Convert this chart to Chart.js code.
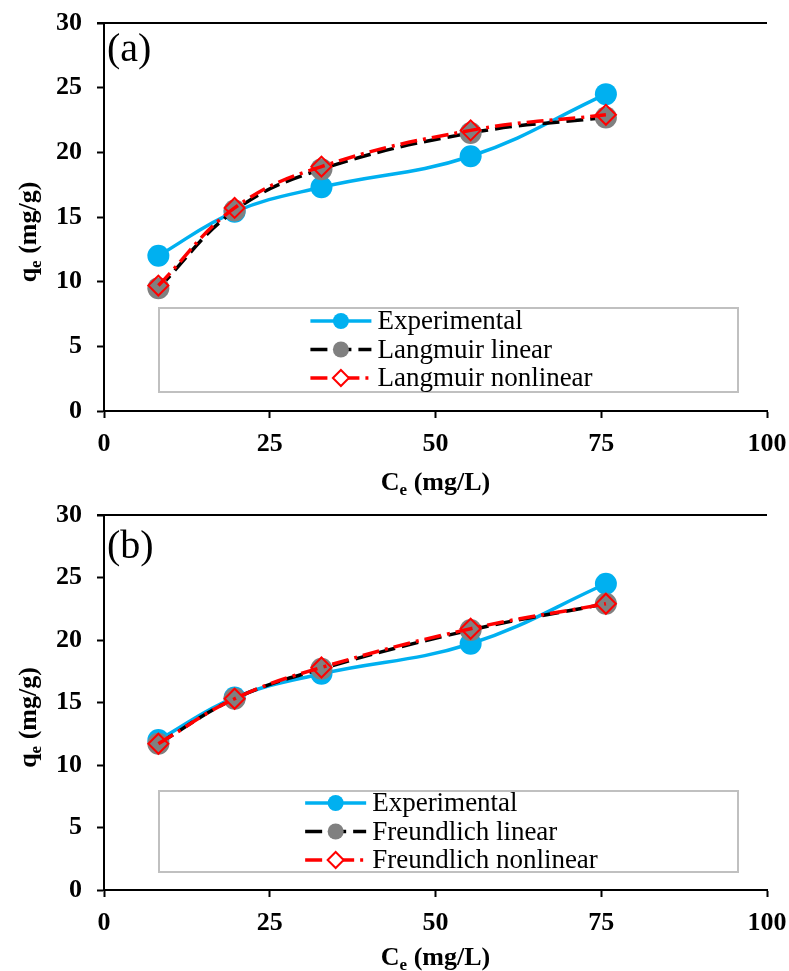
<!DOCTYPE html>
<html>
<head>
<meta charset="utf-8">
<script src="https://cdn.jsdelivr.net/npm/chart.js@4.4.1/dist/chart.umd.min.js"></script>
<style>
  body { margin: 0; background: #fff; }
  .panel { position: relative; width: 789px; }
  #top { height: 500px; }
  #bottom { height: 471px; }
</style>
</head>
<body>
<div class="panel" id="top"><canvas id="chart-a"></canvas></div>
<div class="panel" id="bottom"><canvas id="chart-b"></canvas></div>
<script>
// equilibrium concentration Ce (mg/L)
const ceValues = [8.2, 19.7, 32.8, 55.3, 75.7];
// qe (mg/g)
const experimental = [12.0, 15.4, 17.3, 19.7, 24.5];
const langmuirLinear = [9.5, 15.5, 18.7, 21.5, 22.7];
const langmuirNonlinear = [9.7, 15.7, 18.9, 21.7, 22.9];
const freundlichLinear = [11.7, 15.3, 17.7, 20.8, 22.9];
const freundlichNonlinear = [11.7, 15.3, 17.8, 20.9, 22.9];

const xTickValues = [0, 25, 50, 75, 100];
const yTickValues = [0, 5, 10, 15, 20, 25, 30];

const FONT = '"Liberation Serif", "Times New Roman", serif';
const BLUE = '#00B0F0';
const GRAY = '#808080';
const RED = '#FF0000';

function points(ys) {
  return ceValues.map((x, i) => ({ x: x, y: ys[i] }));
}

function drawSubText(ctx, main, sub, rest, cx, y) {
  ctx.font = 'bold 26px ' + FONT;
  const w1 = ctx.measureText(main).width;
  const w3 = ctx.measureText(rest).width;
  ctx.font = 'bold 17px ' + FONT;
  const w2 = ctx.measureText(sub).width;
  let x = cx - (w1 + w2 + w3) / 2;
  ctx.font = 'bold 26px ' + FONT;
  ctx.fillText(main, x, y);
  x += w1;
  ctx.font = 'bold 17px ' + FONT;
  ctx.fillText(sub, x, y + 5);
  x += w2;
  ctx.font = 'bold 26px ' + FONT;
  ctx.fillText(rest, x, y);
}

const annotate = {
  id: 'annotate',
  afterDraw(chart, args, opts) {
    const ctx = chart.ctx;
    const a = chart.chartArea;
    ctx.save();
    ctx.fillStyle = '#000';
    ctx.textAlign = 'left';
    ctx.textBaseline = 'alphabetic';

    // top frame line
    ctx.strokeStyle = '#000';
    ctx.lineWidth = 2;
    ctx.beginPath();
    ctx.moveTo(a.left - 7, a.top);
    ctx.lineTo(a.right, a.top);
    ctx.stroke();

    // panel label
    ctx.font = '40px ' + FONT;
    ctx.fillText(opts.panel, a.left + 3, a.top + opts.panelY);

    // axis titles
    drawSubText(ctx, 'C', 'e', ' (mg/L)', (a.left + a.right) / 2, a.bottom + opts.xTitleOffset);
    ctx.save();
    ctx.translate(36, (a.top + a.bottom) / 2 + 15);
    ctx.rotate(-Math.PI / 2);
    drawSubText(ctx, 'q', 'e', ' (mg/g)', 0, 0);
    ctx.restore();

    // legend box
    const bx0 = a.left + 55, bx1 = a.right - 29;
    const by0 = a.bottom - opts.legendTop, by1 = a.bottom - opts.legendBottom;
    ctx.strokeStyle = '#C0C0C0';
    ctx.lineWidth = 2;
    ctx.strokeRect(bx0, by0, bx1 - bx0, by1 - by0);

    ctx.font = '27px ' + FONT;
    const items = chart.data.datasets;
    const maxText = Math.max(...items.map(d => ctx.measureText(d.label).width));
    const sample = 61, gap = 6;
    const startX = (bx0 + bx1) / 2 - (sample + gap + maxText) / 2 + 3;
    items.forEach((d, i) => {
      const y = by0 + opts.rowStart + i * 28.5;
      ctx.save();
      ctx.strokeStyle = d.borderColor;
      ctx.lineWidth = 3.5;
      ctx.setLineDash(d.borderDash || []);
      ctx.beginPath();
      ctx.moveTo(startX, y);
      ctx.lineTo(startX + sample, y);
      ctx.stroke();
      ctx.restore();
      const mx = startX + sample / 2;
      ctx.beginPath();
      if (d.pointStyle === 'rectRot') {
        ctx.fillStyle = '#fff';
        ctx.strokeStyle = RED;
        ctx.lineWidth = 2;
        ctx.moveTo(mx - 8, y);
        ctx.lineTo(mx, y - 8);
        ctx.lineTo(mx + 8, y);
        ctx.lineTo(mx, y + 8);
        ctx.closePath();
        ctx.fill();
        ctx.stroke();
      } else {
        ctx.fillStyle = d.pointBackgroundColor;
        ctx.arc(mx, y, 8, 0, Math.PI * 2);
        ctx.fill();
      }
      ctx.fillStyle = '#000';
      ctx.textBaseline = 'middle';
      ctx.fillText(d.label, startX + sample + gap, y + 1);
    });
    ctx.restore();
  }
};

function makeChart(id, linearName, linearVals, nonlinearName, nonlinearVals, cfg) {
  const tickFont = { family: FONT, size: 26, weight: 'bold' };
  return new Chart(document.getElementById(id), {
    type: 'line',
    data: {
      datasets: [
        {
          label: 'Experimental',
          data: points(experimental),
          borderColor: BLUE,
          borderWidth: 3.5,
          pointStyle: 'circle',
          pointRadius: 11,
          pointBackgroundColor: BLUE,
          pointBorderColor: BLUE,
          pointBorderWidth: 0,
          tension: 0.4,
          order: 3
        },
        {
          label: linearName,
          data: points(linearVals),
          borderColor: '#000',
          borderWidth: 3.5,
          borderDash: [17, 7],
          pointStyle: 'circle',
          pointRadius: 11,
          pointBackgroundColor: GRAY,
          pointBorderColor: GRAY,
          pointBorderWidth: 0,
          tension: 0.4,
          order: 2
        },
        {
          label: nonlinearName,
          data: points(nonlinearVals),
          borderColor: RED,
          borderWidth: 3.5,
          borderDash: [17, 6, 3, 6],
          pointStyle: 'rectRot',
          pointRadius: 10,
          pointBackgroundColor: 'rgba(0,0,0,0)',
          pointBorderColor: RED,
          pointBorderWidth: 2,
          tension: 0.4,
          order: 1
        }
      ]
    },
    options: {
      responsive: true,
      maintainAspectRatio: false,
      animation: false,
      layout: { padding: { top: cfg.padTop, right: 22, left: 0, bottom: 0 } },
      plugins: {
        legend: { display: false },
        tooltip: { enabled: false },
        annotate: cfg
      },
      scales: {
        x: {
          type: 'linear',
          min: 0,
          max: 100,
          afterBuildTicks: s => { s.ticks = xTickValues.map(v => ({ value: v })); },
          afterFit: s => { s.height = cfg.xHeight; s.paddingLeft = 0; s.paddingRight = 0; },
          ticks: { color: '#000', font: tickFont, padding: 11, maxRotation: 0 },
          grid: { drawOnChartArea: false, drawTicks: true, tickLength: 7, tickWidth: 2, tickColor: '#000' },
          border: { color: '#000', width: 2 }
        },
        y: {
          min: 0,
          max: 30,
          afterBuildTicks: s => { s.ticks = yTickValues.map(v => ({ value: v })); },
          afterFit: s => { s.width = 104; s.paddingTop = 0; s.paddingBottom = 0; },
          ticks: { color: '#000', font: tickFont, padding: 15 },
          grid: { drawOnChartArea: false, drawTicks: true, tickLength: 7, tickWidth: 2, tickColor: '#000' },
          border: { color: '#000', width: 2 }
        }
      }
    },
    plugins: [annotate]
  });
}

const chartA = makeChart('chart-a', 'Langmuir linear', langmuirLinear, 'Langmuir nonlinear', langmuirNonlinear,
  { panel: '(a)', panelY: 38, padTop: 23, xHeight: 89, xTitleOffset: 79, legendTop: 103, legendBottom: 19, rowStart: 13 });
const chartB = makeChart('chart-b', 'Freundlich linear', freundlichLinear, 'Freundlich nonlinear', freundlichNonlinear,
  { panel: '(b)', panelY: 43, padTop: 15, xHeight: 81, xTitleOffset: 75, legendTop: 99, legendBottom: 18, rowStart: 12 });
</script>
</body>
</html>
